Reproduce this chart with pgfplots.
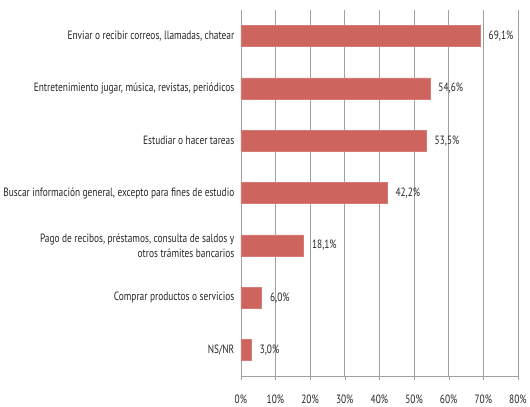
\documentclass[border=0pt]{standalone}
\usepackage{fontspec}
\setmainfont{PT Sans}[FakeStretch=0.78]
\usepackage{pgfplots}
\pgfplotsset{compat=1.18}
\definecolor{barred}{RGB}{205,100,94}
\definecolor{gridgray}{RGB}{160,160,160}
\begin{document}
\begin{tikzpicture}
\begin{axis}[
  name=ax,
  scale only axis,
  width=277pt, height=366pt,
  xbar, bar width=21pt,
  xmin=0, xmax=80,
  ymin=-0.5, ymax=6.5,
  axis x line*=bottom, axis y line*=left,
  axis line style={gridgray},
  xtick={0,10,...,80},
  xticklabel={\pgfmathprintnumber{\tick}\%},
  /pgf/number format/assume math mode=true,
  xmajorgrids, major grid style={gridgray, line width=0.6pt},
  x tick style={gridgray}, major tick length=4pt,
  xtick align=outside,
  ytick={0,...,6},
  yticklabels={NS/NR, Comprar productos o servicios, {Pago de recibos, préstamos, consulta de saldos y\\otros trámites bancarios}, {Buscar información general, excepto para fines de estudio}, Estudiar o hacer tareas, {Entretenimiento jugar, música, revistas, periódicos}, {Enviar o recibir correos, llamadas, chatear}},
  yticklabel style={align=right, font=\fontsize{12}{15}\selectfont, text=black!85, xshift=1pt},
  xticklabel style={font=\fontsize{12}{15}\selectfont, text=black!85, yshift=-11pt},
  y tick style={draw=none},
  minor ytick={-0.5,0.5,...,6.5},
  minor y tick style={gridgray}, minor tick length=4pt, ytick align=outside,
  nodes near coords={\pgfmathprintnumber[fixed,zerofill,precision=1,use comma]{\pgfplotspointmeta}\%},
  nodes near coords style={font=\fontsize{12}{15}\selectfont, text=black!85, xshift=5pt},
]
\addplot[fill=barred, draw=barred!85!white] coordinates {
(3.0,0) (6.0,1) (18.1,2) (42.2,3) (53.5,4) (54.6,5) (69.1,6)};
\end{axis}
\path ([yshift=10pt]ax.north) (ax.south) ++(0,-30pt);
\end{tikzpicture}
\end{document}
